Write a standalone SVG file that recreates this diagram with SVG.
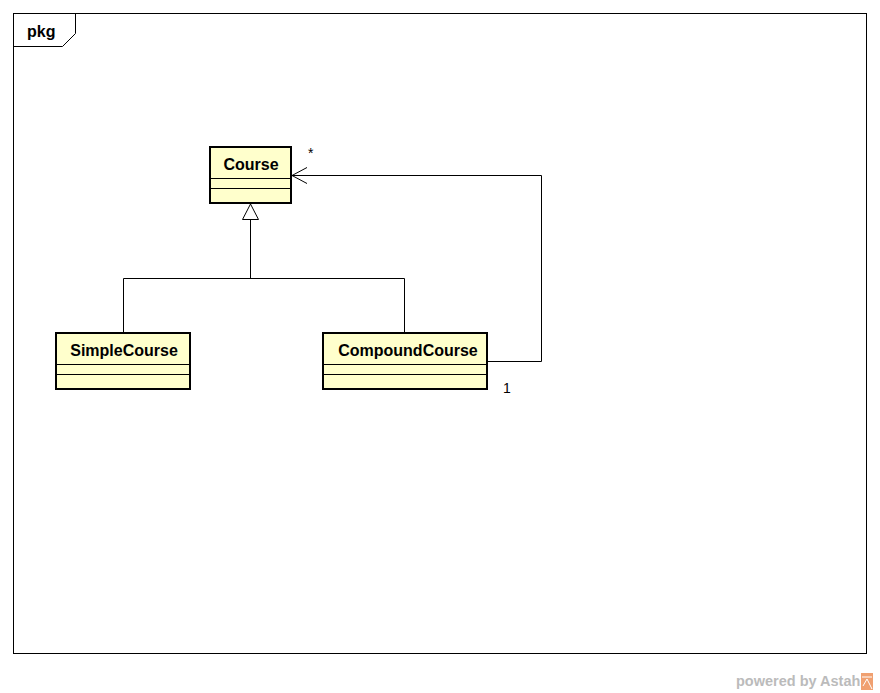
<svg xmlns="http://www.w3.org/2000/svg" width="880" height="693" viewBox="0 0 880 693">
  <style>
    .frame { fill: none; stroke: #000; stroke-width: 1; }
    .cls { fill: #ffffcc; stroke: #000; stroke-width: 2; }
    .div { stroke: #000; stroke-width: 1; }
    .name { font-family: "Liberation Sans", Arial, sans-serif; font-weight: bold; font-size: 16px; text-anchor: middle; fill: #000; }
    .mult { font-family: "Liberation Sans", Arial, sans-serif; font-size: 14px; fill: #000; }
    .edge { fill: none; stroke: #000; stroke-width: 1; }
    .foot { font-family: "Liberation Sans", Arial, sans-serif; font-weight: bold; font-size: 14.5px; fill: #bbbbbb; }
  </style>
  <defs>
    <!-- open navigability arrowhead, tip at the line end -->
    <marker id="open" markerWidth="20" markerHeight="20" refX="16" refY="10" orient="auto" markerUnits="userSpaceOnUse">
      <path d="M1,2 L16,10 L1,18" fill="none" stroke="#000" stroke-width="1"/>
    </marker>
  </defs>
  <rect width="880" height="693" fill="#fff"/>

  <!-- package frame -->
  <g id="pkg">
    <rect class="frame" x="13.5" y="13.5" width="853" height="640"/>
    <path class="frame" d="M13.5,46.5 H62.5 L75.5,33.5 V13.5"/>
    <text x="27" y="37" class="name" style="text-anchor:start">pkg</text>
  </g>

  <g id="Course">
    <rect class="cls" x="210" y="147" width="81" height="56"/>
    <line class="div" x1="211" y1="178.5" x2="290" y2="178.5"/>
    <line class="div" x1="211" y1="188.5" x2="290" y2="188.5"/>
    <text class="name" x="251" y="170">Course</text>
  </g>

  <g id="SimpleCourse">
    <rect class="cls" x="56" y="333" width="134" height="56"/>
    <line class="div" x1="57" y1="364.5" x2="189" y2="364.5"/>
    <line class="div" x1="57" y1="374.5" x2="189" y2="374.5"/>
    <text class="name" x="124" y="356">SimpleCourse</text>
  </g>

  <g id="CompoundCourse">
    <rect class="cls" x="323" y="333" width="164" height="56"/>
    <line class="div" x1="324" y1="364.5" x2="486" y2="364.5"/>
    <line class="div" x1="324" y1="374.5" x2="486" y2="374.5"/>
    <text class="name" x="408" y="356">CompoundCourse</text>
  </g>

  <!-- connectors -->
  <g id="edges">
    <path class="edge" d="M250.5,219 V278.5 M123.5,333 V278.5 H404.5 V333"/>
    <path d="M250.5,204 L242.5,219.5 H258.5 Z" fill="#fff" stroke="#000" stroke-width="1"/>
    <path class="edge" d="M488,361.5 H541.5 V175.5 H292" marker-end="url(#open)"/>
    <text class="mult" x="308" y="158">*</text>
    <text class="mult" x="503" y="393">1</text>
  </g>

  <!-- footer mark -->
  <g id="footer">
    <text class="foot" x="736" y="686">powered by Astah</text>
    <rect x="861" y="673" width="12" height="17" fill="#f0a070"/>
    <path d="M862,677 H872 M867,679 L872,689 M867,679 L863,686" stroke="#fff" stroke-width="1" fill="none"/>
  </g>
</svg>
